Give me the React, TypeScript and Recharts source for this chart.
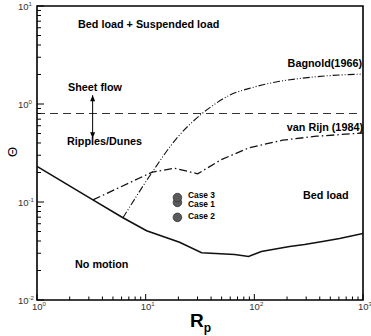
import React from 'react';
import {
  ComposedChart,
  Line,
  Scatter,
  XAxis,
  YAxis,
  ReferenceLine,
  ReferenceArea,
  Customized,
} from 'recharts';

// Shields-type threshold curve (solid)
const shieldsRp = [1, 3.27, 6.18, 10.2, 20.5, 32.7, 65.9, 88.5, 116, 211, 290, 424, 609, 1000];
const shieldsTheta = [0.231, 0.105, 0.069, 0.051, 0.0389, 0.0303, 0.0291, 0.0278, 0.0313, 0.0351, 0.0368, 0.0395, 0.0425, 0.0477];

// van Rijn (1984) suspension criterion
const vanRijnRp = [3.27, 11.5, 18.5, 30.1, 49.7, 90.5, 182, 372, 1000];
const vanRijnTheta = [0.105, 0.202, 0.221, 0.194, 0.271, 0.359, 0.427, 0.469, 0.506];

// Bagnold (1966) suspension criterion
const bagnoldRp = [6.18, 11.5, 19.2, 32.5, 44, 59.3, 96.4, 159, 260, 500, 1000];
const bagnoldTheta = [0.069, 0.202, 0.444, 0.787, 1.01, 1.23, 1.475, 1.68, 1.82, 1.95, 2.02];

// simulated cases
const caseNames = ['Case 1', 'Case 3', 'Case 2'];
const caseRp = [19.6, 19.6, 19.6];
const caseTheta = [0.099, 0.111, 0.0697];

// sheet flow limit and the arrow across it
const sheetFlowTheta = 0.8;
const arrowRp = [3.25, 3.25];
const arrowTheta = [1.23, 0.447];

const xTicks = [1, 2, 3, 4, 5, 6, 7, 8, 9, 10, 20, 30, 40, 50, 60, 70, 80, 90, 100, 200, 300, 400, 500, 600, 700, 800, 900, 1000];
const yTicks = [0.01, 0.02, 0.03, 0.04, 0.05, 0.06, 0.07, 0.08, 0.09, 0.1, 0.2, 0.3, 0.4, 0.5, 0.6, 0.7, 0.8, 0.9, 1, 2, 3, 4, 5, 6, 7, 8, 9, 10];

const zip = (xs: number[], ys: number[]) => xs.map((x, i) => ({ x, y: ys[i] }));

const shields = zip(shieldsRp, shieldsTheta);
const vanRijn = zip(vanRijnRp, vanRijnTheta);
const bagnold = zip(bagnoldRp, bagnoldTheta);
const cases = caseRp.map((x, i) => ({ x, y: caseTheta[i], name: caseNames[i] }));
const arrow = zip(arrowRp, arrowTheta);

const FONT = '"Liberation Sans", Arial, Helvetica, sans-serif';

const isMajor = (v: number) => Math.abs(Math.log10(v) - Math.round(Math.log10(v))) < 1e-6;

const XTick = (props: any) => {
  const { x, y, payload } = props;
  const v = payload.value;
  const major = isMajor(v);
  return (
    <g>
      <line x1={x} y1={y} x2={x} y2={y - (major ? 6 : 3.5)} stroke="#000" strokeWidth={1} />
      {major && (
        <text x={x - 5} y={y + 10} fontSize={9.5} fontFamily={FONT} fill="#333">
          10
          <tspan dy={-4} fontSize={6}>{Math.round(Math.log10(v))}</tspan>
        </text>
      )}
    </g>
  );
};

const YTick = (props: any) => {
  const { x, y, payload } = props;
  const v = payload.value;
  const major = isMajor(v);
  return (
    <g>
      <line x1={x} y1={y} x2={x + (major ? 7 : 4)} y2={y} stroke="#000" strokeWidth={1} />
      {major && (
        <text x={x - 19} y={y + 4} fontSize={9.5} fontFamily={FONT} fill="#333">
          10
          <tspan dy={-4} fontSize={6}>{Math.round(Math.log10(v))}</tspan>
        </text>
      )}
    </g>
  );
};

const ArrowHead = (props: any) => {
  const { cx, cy, index } = props;
  if (cx == null || cy == null) return <g />;
  const up = index === 0;
  const d = up
    ? `M${cx},${cy} L${cx - 2.5},${cy + 6} L${cx + 2.5},${cy + 6} Z`
    : `M${cx},${cy} L${cx - 2.5},${cy - 6} L${cx + 2.5},${cy - 6} Z`;
  return <path d={d} fill="#000" />;
};

const CaseDot = (props: any) => {
  const { cx, cy } = props;
  return <circle cx={cx} cy={cy} r={4.3} fill="#5a5a5a" stroke="#333" strokeWidth={0.8} />;
};

const Annotations = () => (
  <g fontFamily={FONT} fontWeight="bold" fill="#000">
    <text x={78} y={28} fontSize={10.8}>Bed load + Suspended load</text>
    <text x={362} y={67} fontSize={10.8} textAnchor="end">Bagnold(1966)</text>
    <text x={363} y={131} fontSize={10.8} textAnchor="end">van Rijn (1984)</text>
    <text x={68} y={91} fontSize={10.8}>Sheet flow</text>
    <text x={67} y={145} fontSize={10.8}>Ripples/Dunes</text>
    <text x={303} y={199} fontSize={10.8}>Bed load</text>
    <text x={75} y={268} fontSize={10.8}>No motion</text>
    <text x={188} y={198} fontSize={8.4}>Case 3</text>
    <text x={188} y={207} fontSize={8.4}>Case 1</text>
    <text x={188} y={219} fontSize={8.4}>Case 2</text>
    <text x={14} y={152} fontSize={13} fontWeight="normal" textAnchor="middle" transform="rotate(-90 14 152)" dominantBaseline="middle">Θ</text>
    <text x={190} y={327} fontSize={19}>
      R
      <tspan dy={5} fontSize={12}>p</tspan>
    </text>
  </g>
);

export default function App() {
  return (
    <div style={{ position: 'absolute', left: 0, top: 0, background: '#fff' }}>
      <ComposedChart width={371} height={336} margin={{ top: 6, right: 8, bottom: 0, left: 0 }}>
        <XAxis
          dataKey="x"
          type="number"
          scale="log"
          domain={[1, 1000]}
          ticks={xTicks}
          interval={0}
          tick={<XTick />}
          tickLine={false}
          tickSize={0}
          tickMargin={0}
          axisLine={false}
          height={36}
          allowDataOverflow
        />
        <YAxis
          dataKey="y"
          type="number"
          scale="log"
          domain={[0.01, 10]}
          ticks={yTicks}
          interval={0}
          tick={<YTick />}
          tickLine={false}
          tickSize={0}
          tickMargin={0}
          axisLine={false}
          width={37}
          allowDataOverflow
        />
        <ReferenceArea x1={1} x2={1000} y1={0.01} y2={10} fill="none" stroke="#000" strokeWidth={1.6} ifOverflow="visible" />
        <ReferenceLine y={sheetFlowTheta} stroke="#333" strokeWidth={1.1} strokeDasharray="8 5" />
        <Line data={shields} dataKey="y" type="linear" stroke="#111" strokeWidth={1.6} dot={false} isAnimationActive={false} />
        <Line data={vanRijn} dataKey="y" type="linear" stroke="#111" strokeWidth={1.3} strokeDasharray="8 3 1.5 3" dot={false} isAnimationActive={false} />
        <Line data={bagnold} dataKey="y" type="monotone" stroke="#111" strokeWidth={1.1} strokeDasharray="7 2 1 2 1 2" dot={false} isAnimationActive={false} />
        <Line data={arrow} dataKey="y" type="linear" stroke="#000" strokeWidth={1} dot={<ArrowHead />} isAnimationActive={false} />
        <Scatter data={cases} dataKey="y" shape={<CaseDot />} isAnimationActive={false} />
        <Customized component={Annotations} />
      </ComposedChart>
    </div>
  );
}
